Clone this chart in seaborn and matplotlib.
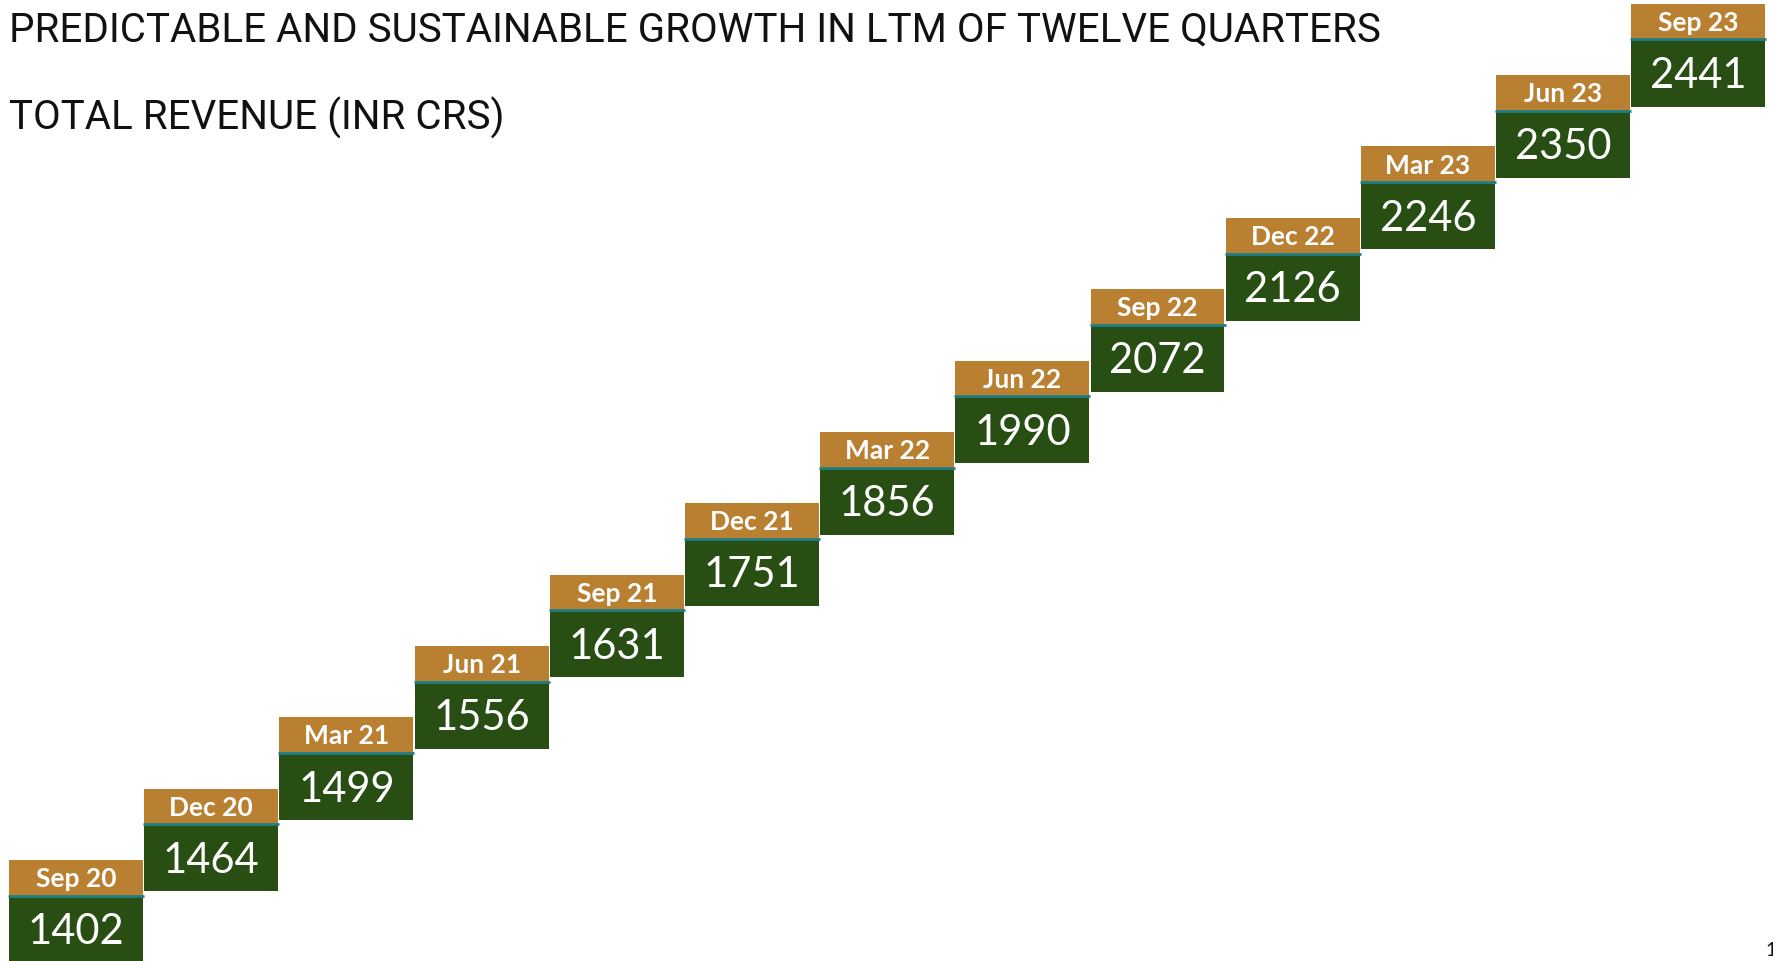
import numpy as np
import seaborn as sns
import matplotlib
matplotlib.use("Agg")
import matplotlib.pyplot as plt
from matplotlib import font_manager

# quarter labels and total revenue (INR Crs)
quarters = ["Sep 20", "Dec 20", "Mar 21", "Jun 21", "Sep 21", "Dec 21", "Mar 22",
            "Jun 22", "Sep 22", "Dec 22", "Mar 23", "Jun 23", "Sep 23"]
revenue = [1402, 1464, 1499, 1556, 1631, 1751, 1856, 1990, 2072, 2126, 2246, 2350, 2441]

title_lines = ["PREDICTABLE AND SUSTAINABLE GROWTH IN LTM OF TWELVE QUARTERS",
               "TOTAL REVENUE (INR CRS)"]
page_number = "1"

header_color = "#B98032"
body_color = "#284E14"
edge_color = "#1E7F86"


def pick_font(wanted, fallback="DejaVu Sans"):
    names = {f.name for f in font_manager.fontManager.ttflist}
    for w in wanted:
        if w in names:
            return w
    return fallback


def main():
    sns.set_theme(style="white")
    box_font = pick_font(["Lato", "Open Sans", "Noto Sans"])
    title_font = pick_font(["Liberation Sans Narrow", "DejaVu Sans Condensed", "Roboto"])
    plt.rcParams["font.family"] = [box_font, "DejaVu Sans"]

    fig = plt.figure(figsize=(17.73, 9.61), dpi=100)
    ax = fig.add_axes([0, 0, 1, 1])

    # every quarter moves one step right and one step up
    x = np.arange(len(quarters))
    step = x.astype(float)

    body_h = 0.94
    head_h = 0.50
    ax.bar(x, body_h, bottom=step - body_h, width=0.99, color=body_color, linewidth=0)
    ax.bar(x, head_h, bottom=step, width=0.99, color=header_color, linewidth=0)
    ax.hlines(step, x - 0.503, x + 0.503, color=edge_color, linewidth=2)

    for xi, yi, q, v in zip(x, step, quarters, revenue):
        ax.text(xi, yi + 0.12, q, ha="center", va="baseline", color="white",
                fontsize=19, fontweight="bold")
        ax.text(xi, yi - 0.68, str(v), ha="center", va="baseline", color="white",
                fontsize=30)

    ax.set_xlim(-0.562, 12.552)
    ax.set_ylim(-0.915, 12.553)
    ax.axis("off")

    # slide title, two lines at top left
    fig.text(9 / 1773, 1 - 42 / 961, title_lines[0], ha="left", va="baseline",
             fontsize=29, color="#111111", family=[title_font, "DejaVu Sans"])
    fig.text(9 / 1773, 1 - 130 / 961, title_lines[1], ha="left", va="baseline",
             fontsize=29, color="#111111", family=[title_font, "DejaVu Sans"])

    fig.text(1765 / 1773, 0.002, page_number, ha="left", va="bottom", fontsize=14,
             color="#111111")

    fig.savefig("out.png", dpi=100)


if __name__ == "__main__":
    main()
